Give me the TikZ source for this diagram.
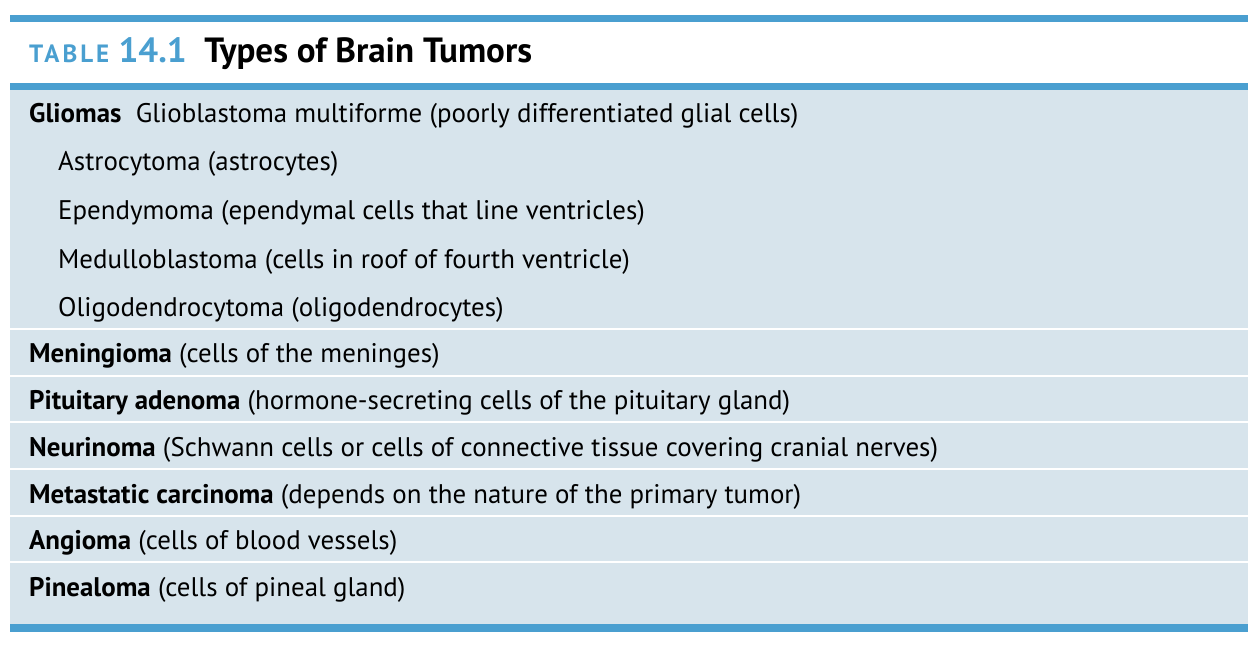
\documentclass[tikz,border=0pt]{standalone}
\usepackage{fontspec}
\setmainfont{PT Sans}
\definecolor{tblue}{HTML}{4A9FD0}
\definecolor{panel}{HTML}{D7E4EC}
\begin{document}
\begin{tikzpicture}[x=1pt,y=-1pt,
  txt/.style={anchor=base west,inner sep=0pt,font=\fontsize{26.9}{30}\selectfont},
  sep/.style={white,line width=2.5pt}]
\useasboundingbox (0,0) rectangle (1254,650);
\fill[panel] (10,89) rectangle (1248,625);
\fill[tblue] (10,15) rectangle (1248,22);
\fill[tblue] (10,83) rectangle (1248,90);
\fill[tblue] (10,624) rectangle (1248,632);
\foreach \y in {329,376,422,469,516,562} \draw[sep] (10,\y) -- (1248,\y);
\node[anchor=base west,inner sep=0pt] (title) at (29,63)
  {\fontsize{25}{28}\selectfont\bfseries\addfontfeature{LetterSpace=12}\color{tblue}TABLE\ \fontsize{35}{38}\selectfont\addfontfeature{LetterSpace=0}14.1\ \ \color{black}Types of Brain Tumors};
\node[txt] (g) at (29,123) {\textbf{Gliomas}\ \ Glioblastoma multiforme (poorly differentiated glial cells)};
\node[txt] (a) at (58,171) {Astrocytoma (astrocytes)};
\node[txt] (e) at (58,219) {Ependymoma (ependymal cells that line ventricles)};
\node[txt] (m) at (58,268) {Medulloblastoma (cells in roof of fourth ventricle)};
\node[txt] (o) at (58,316) {Oligodendrocytoma (oligodendrocytes)};
\node[txt] (me) at (29,362) {\textbf{Meningioma} (cells of the meninges)};
\node[txt] (p) at (29,409) {\textbf{Pituitary adenoma} (hormone-secreting cells of the pituitary gland)};
\node[txt] (n) at (29,456) {\textbf{Neurinoma} (Schwann cells or cells of connective tissue covering cranial nerves)};
\node[txt] (mc) at (29,503) {\textbf{Metastatic carcinoma} (depends on the nature of the primary tumor)};
\node[txt] (an) at (29,549) {\textbf{Angioma} (cells of blood vessels)};
\node[txt] (pi) at (29,596) {\textbf{Pinealoma} (cells of pineal gland)};
\end{tikzpicture}
\end{document}
